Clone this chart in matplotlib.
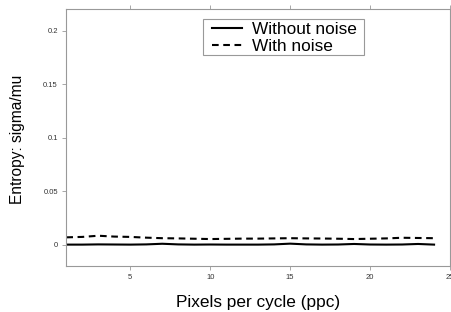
import numpy as np
import matplotlib
matplotlib.use("Agg")
import matplotlib.pyplot as plt
from matplotlib.patches import Rectangle

plt.rcParams['font.family'] = ['Liberation Sans', 'DejaVu Sans']

# pixels per cycle
ppc = list(range(1, 25))

# entropy values
without_noise = [0.0, 0.0, 0.0002, 0.0001, 0.0, 0.0002, 0.0008, 0.0002, 0.0, 0.0001,
                 0.0, 0.0, 0.0, 0.0002, 0.0009, 0.0002, 0.0, 0.0001, 0.0006, 0.0001,
                 0.0, 0.0001, 0.0006, 0.0]
with_noise = [0.0068, 0.0072, 0.0083, 0.0075, 0.0072, 0.0065, 0.006, 0.0058, 0.0055, 0.0052,
              0.0054, 0.0056, 0.0056, 0.0058, 0.006, 0.0058, 0.0057, 0.0055, 0.0052, 0.0055,
              0.0058, 0.0064, 0.0062, 0.006]

x_ticks = [5, 10, 15, 20, 25]
y_ticks = [0, 0.05, 0.1, 0.15, 0.2]
y_tick_labels = ['0', '0.05', '0.1', '0.15', '0.2']

fig = plt.figure(figsize=(4.52, 3.12), dpi=100)
ax = fig.add_axes([0.1467, 0.1474, 0.849, 0.823])

ax.plot(ppc, without_noise, color='black', lw=1.5, label='Without noise')
ax.plot(ppc, with_noise, color='black', lw=1.5, ls=(0, (3.2, 2.2)), label='With noise')

ax.set_xlim(1, 25)
ax.set_ylim(-0.02, 0.22)
ax.set_xticks(x_ticks)
ax.set_xticklabels([str(t) for t in x_ticks])
ax.set_yticks(y_ticks)
ax.set_yticklabels(y_tick_labels)

for s in ax.spines.values():
    s.set_color('#999999')
    s.set_linewidth(0.8)
ax.tick_params(which='both', direction='out', length=3, width=0.6, color='#999999',
               labelsize=5.5, labelcolor='#333333', top=True, right=True, pad=3)

ax.set_xlabel('Pixels per cycle (ppc)', fontsize=12.4, labelpad=10)
ax.set_ylabel('Entropy: sigma/mu', fontsize=11.2)
ax.yaxis.set_label_coords(-0.107, 0.495)

# legend without its own frame, box drawn separately for wider side padding
leg = ax.legend(loc='upper left', bbox_to_anchor=(0.379, 0.950), fontsize=12.4,
                frameon=False, handlelength=1.75, handletextpad=0.6,
                borderpad=0, labelspacing=0.1, borderaxespad=0)
ax.add_patch(Rectangle((0.356, 0.822), 0.419, 0.140, transform=ax.transAxes,
                       fill=False, ec='#999999', lw=0.8, zorder=5))

fig.savefig('out.png', dpi=100)
